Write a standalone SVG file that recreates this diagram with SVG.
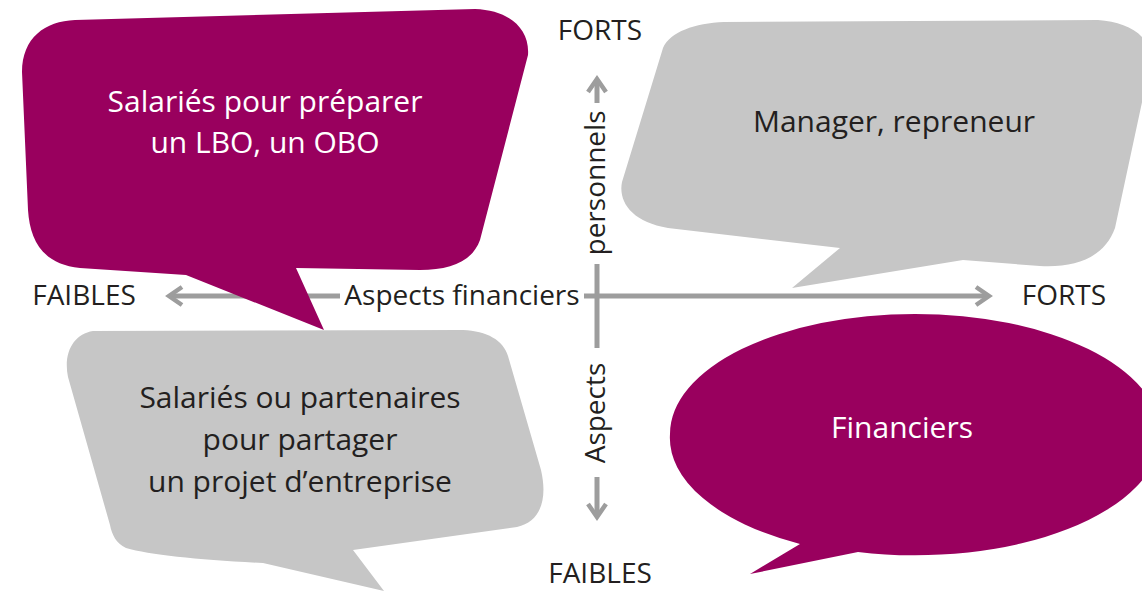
<svg xmlns="http://www.w3.org/2000/svg" width="1142" height="591" viewBox="0 0 1142 591">
  <style>
    .axis { fill: none; stroke: #9d9d9d; stroke-width: 5; }
    .head { fill: none; stroke: #9d9d9d; stroke-width: 4.5; stroke-linejoin: miter; }
    .lbl { font-family: "Open Sans", "Liberation Sans", sans-serif; font-size: 28px; fill: #231f20; text-anchor: middle; }
    .btxt { font-family: "Open Sans", "Liberation Sans", sans-serif; font-size: 30px; text-anchor: middle; }
    .dark { fill: #231f20; }
    .light { fill: #ffffff; }
    .purple { fill: #99005e; }
    .grey { fill: #c6c6c6; }
  </style>
  <rect width="1142" height="591" fill="#ffffff"/>

  <g id="connectors">
    <line class="axis" x1="170" y1="296" x2="340" y2="296"/>
    <line class="axis" x1="584" y1="296" x2="988" y2="296"/>
    <polyline class="head" points="182,287 169,296 182,305"/>
    <polyline class="head" points="976,287 989,296 976,305"/>
    <line class="axis" x1="597" y1="80" x2="597" y2="103"/>
    <line class="axis" x1="597" y1="264" x2="597" y2="348"/>
    <line class="axis" x1="597" y1="477" x2="597" y2="516"/>
    <polyline class="head" points="588,92 597,79 606,92"/>
    <polyline class="head" points="588,504 597,517 606,504"/>
  </g>

  <g id="axis-labels">
    <text class="lbl" x="600" y="40">FORTS</text>
    <text class="lbl" x="600" y="583">FAIBLES</text>
    <text class="lbl" x="84" y="305">FAIBLES</text>
    <text class="lbl" x="1064" y="305">FORTS</text>
    <text class="lbl" x="462" y="305">Aspects financiers</text>
    <text class="lbl" transform="translate(605,183) rotate(-90)">personnels</text>
    <text class="lbl" transform="translate(605,413) rotate(-90)">Aspects</text>
  </g>

  <g id="node-manager">
    <path class="grey" d="M724,22 L1098,20 C1130,22 1155,38 1150,65 L1115,228 C1105,256 1078,268 1040,266 L963,260 L792,288 L840,248 L668,228 C632,222 618,202 622,182 L663,48 C670,32 695,23 724,22 Z"/>
    <text class="btxt dark" x="894" y="132">Manager, repreneur</text>
  </g>

  <g id="node-salaries-partenaires">
    <path class="grey" d="M93,331 L463,330 C487,331 503,340 508,356 L541,470 C548,500 540,522 517,527 L353,550 L384,591 L263,563 C200,560 150,555 126,548 C116,543 112,535 110,525 L68,377 C63,352 74,334 93,331 Z"/>
    <text class="btxt dark" x="300" y="408">Salariés ou partenaires</text>
    <text class="btxt dark" x="300" y="450">pour partager</text>
    <text class="btxt dark" x="300" y="492">un projet d’entreprise</text>
  </g>

  <g id="node-financiers">
    <path class="purple" d="M670,434 A245,120 0 1 1 1160,434 A245,120 0 0 1 858,552 L750,574 L800,544 A245,120 0 0 1 670,434 Z"/>
    <text class="btxt light" x="902" y="438">Financiers</text>
  </g>

  <g id="node-salaries-lbo">
    <path class="purple" d="M75,20 L475,9 C508,10 530,28 528,55 L480,240 C472,262 450,270 420,270 L296,268 L324,330 L186,275 L80,268 C42,264 30,240 28,210 L22,72 C22,38 45,21 75,20 Z"/>
    <text class="btxt light" x="265" y="112">Salariés pour préparer</text>
    <text class="btxt light" x="265" y="153">un LBO, un OBO</text>
  </g>
</svg>
